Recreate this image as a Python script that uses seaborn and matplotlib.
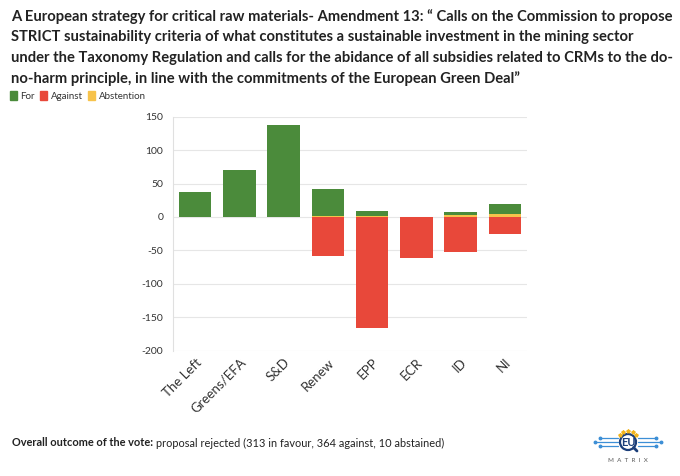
import matplotlib
matplotlib.use("Agg")
import matplotlib.pyplot as plt
import seaborn as sns
import pandas as pd
import numpy as np
from matplotlib.patches import Patch, Circle

parties = ["The Left", "Greens/EFA", "S&D", "Renew", "EPP", "ECR", "ID", "NI"]
votes_for = [38, 70, 137, 41, 7, 0, 5, 15]
votes_against = [0, 0, 0, 59, 166, 61, 53, 25]
votes_abst = [0, 0, 0, 1, 2, 0, 3, 4]
yticks = [150, 100, 50, 0, -50, -100, -150, -200]

GREEN = "#4b8b3b"
RED = "#e8483a"
YELLOW = "#f7c34b"
TXT = "#333333"

sns.set_theme(style="white")
plt.rcParams["font.family"] = ["Lato", "DejaVu Sans"]

df = pd.DataFrame({
    "party": parties,
    "pos_total": np.array(votes_for) + np.array(votes_abst),
    "abst": votes_abst,
    "against": -np.array(votes_against),
})

fig = plt.figure(figsize=(6.8, 4.76), dpi=100)
ax = fig.add_axes([173/680, 1-350.7/476, 354/680, 234/476])

sns.barplot(data=df, x="party", y="pos_total", color=GREEN, width=0.74,
            saturation=1, ax=ax, zorder=3, linewidth=0)
sns.barplot(data=df, x="party", y="abst", color=YELLOW, width=0.74,
            saturation=1, ax=ax, zorder=4, linewidth=0)
sns.barplot(data=df, x="party", y="against", color=RED, width=0.74,
            saturation=1, ax=ax, zorder=3, linewidth=0)

ax.set_ylim(-200, 150)
ax.set_xlim(-0.5, len(parties) - 0.5)
ax.set_yticks(yticks)
ax.set_yticklabels([str(v) for v in yticks], fontsize=7.5, color=TXT)
ax.set_xticks(range(len(parties)))
ax.set_xticklabels(parties, rotation=45, ha="right", rotation_mode="anchor",
                   fontsize=9.5, color=TXT)
ax.set_xlabel("")
ax.set_ylabel("")
ax.grid(axis="y", color="#e6e6e6", linewidth=0.8, zorder=0)
for s in ["top", "right", "bottom"]:
    ax.spines[s].set_visible(False)
ax.spines["left"].set_color("#e0e0e0")
ax.spines["left"].set_linewidth(0.8)
ax.tick_params(axis="y", length=5, color="#e0e0e0", width=0.8, pad=2)
ax.tick_params(axis="x", length=0, pad=4)

title = ("A European strategy for critical raw materials- Amendment 13: \u201c Calls on the Commission to propose\n"
         "STRICT sustainability criteria of what constitutes a sustainable investment in the mining sector\n"
         "under the Taxonomy Regulation and calls for the abidance of all subsidies related to CRMs to the do-\n"
         "no-harm principle, in line with the commitments of the European Green Deal\u201d")
fig.text(11/680, 1-9/476, title, ha="left", va="top", fontsize=10.6,
         fontweight="bold", color="#222222", linespacing=1.58)

handles = [Patch(color=GREEN, label="For"), Patch(color=RED, label="Against"),
           Patch(color=YELLOW, label="Abstention")]
fig.legend(handles=handles, loc="center left", bbox_to_anchor=(6/680, 1-96/476),
           ncol=3, frameon=False, fontsize=7, handlelength=0.7, handleheight=1.0,
           handletextpad=0.35, columnspacing=0.6, labelcolor=TXT, borderaxespad=0)

# footer
fig.canvas.draw()
r = fig.canvas.get_renderer()
t1 = fig.text(12/680, 1-443/476, "Overall outcome of the vote:", ha="left", va="center",
              fontsize=7.9, fontweight="bold", color="#222222")
bb = t1.get_window_extent(renderer=r)
fig.text((bb.x1 + 3)/680, 1-443/476,
         "proposal rejected (313 in favour, 364 against, 10 abstained)",
         ha="left", va="center", fontsize=7.9, color="#222222")

# logo approximation
lax = fig.add_axes([590/680, 1-472/476, 90/680, 52/476])
lax.set_xlim(0, 90)
lax.set_ylim(0, 52)
lax.axis("off")
blue = "#3d8fd6"
navy = "#1c3f7a"
cx, cy = 38, 30
for dy, x0, x1 in [(4, 10, 28), (0, 5, 28), (-4, 10, 28)]:
    lax.plot([x0, x1], [cy+dy, cy+dy], color=blue, lw=0.9)
    lax.plot([x0], [cy+dy], marker="o", ms=1.8, color=blue)
    lax.plot([2*cx-x1, 2*cx-x0], [cy+dy, cy+dy], color=blue, lw=0.9)
    lax.plot([2*cx-x0], [cy+dy], marker="o", ms=1.8, color=blue)
lax.add_patch(Circle((cx, cy), 8, facecolor="white", edgecolor=navy, lw=1.6))
lax.plot([cx+5.5, cx+9], [cy-5.5, cy-9], color=navy, lw=2)
lax.text(cx, cy, "EU", ha="center", va="center", fontsize=8, fontweight="bold", color=navy)
for i, ang in enumerate(np.linspace(140, 40, 5)):
    a = np.radians(ang)
    lax.plot(cx + 11*np.cos(a), cy + 11*np.sin(a), marker="*", ms=2.8, color="#f2b51d")
lax.text(cx, 12, "M  A  T  R  I  X", ha="center", va="center", fontsize=4.5, color="#555555")

fig.savefig("out.png", dpi=100, facecolor="white")
